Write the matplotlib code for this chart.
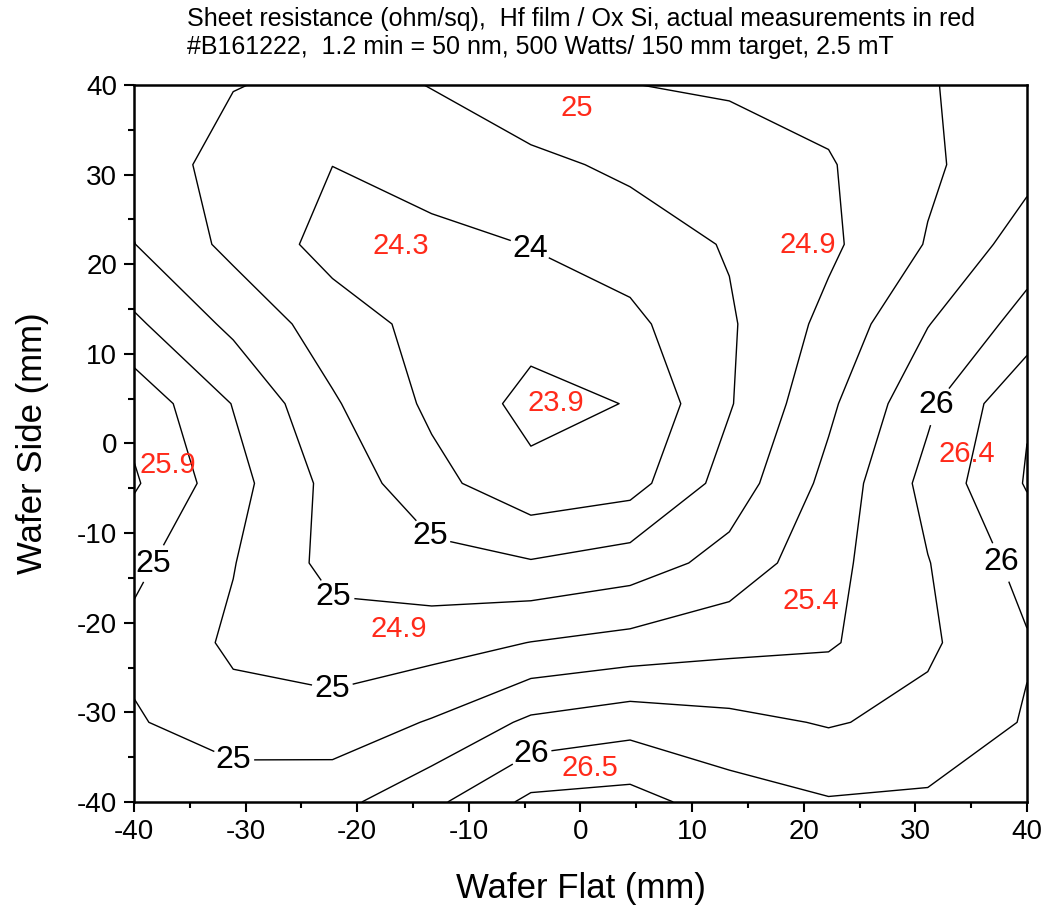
import numpy as np
import matplotlib
matplotlib.use("Agg")
import matplotlib.pyplot as plt
from matplotlib.ticker import MultipleLocator

plt.rcParams['font.family'] = ['Liberation Sans', 'DejaVu Sans']
plt.rcParams['axes.unicode_minus'] = False

# grid positions (mm) of the gridded sheet resistance map
wafer_flat = np.linspace(-40, 40, 10)
wafer_side = np.linspace(-40, 40, 10)

# gridded sheet resistance (ohm/sq), rows from wafer side -40 to +40
rs_row0 = [25.36, 25.44, 25.42, 25.69, 26.06, 26.10, 25.87, 25.77, 25.79, 25.85]
rs_row1 = [25.28, 25.08, 25.10, 25.27, 25.55, 25.65, 25.57, 25.48, 25.57, 25.77]
rs_row2 = [25.18, 24.96, 24.86, 24.895, 25.005, 25.08, 25.17, 25.22, 25.46, 25.73]
rs_row3 = [25.31, 25.01, 24.67, 24.58, 24.52, 24.62, 24.84, 25.17, 25.49, 25.84]
rs_row4 = [25.53, 25.09, 24.67, 24.33, 24.07, 24.15, 24.61, 25.07, 25.58, 26.02]
rs_row5 = [25.42, 24.99, 24.53, 24.20, 23.92, 24.01, 24.48, 24.95, 25.45, 25.98]
rs_row6 = [25.046, 24.69, 24.37, 24.17, 24.09, 24.19, 24.47, 24.82, 25.24, 25.60]
rs_row7 = [24.755, 24.43, 24.16, 24.15, 24.26, 24.37, 24.52, 24.70, 25.016, 25.37]
rs_row8 = [24.66, 24.39, 24.252, 24.41, 24.44, 24.55, 24.59, 24.73, 24.96, 25.17]
rs_row9 = [24.60, 24.51, 24.44, 24.505, 24.68, 24.745, 24.79, 24.835, 24.98, 25.15]

levels = [24.0, 24.25, 24.5, 24.75, 25.0, 25.25, 25.5, 25.75, 26.0]

# actual measurements (shown in red)
meas_x = [-0.3, -16.1, 20.4, -2.2, -37.0, 34.6, 20.6, -16.3, 0.8]
meas_y = [37.4, 22.0, 22.1, 4.5, -2.4, -1.2, -17.6, -20.7, -36.2]
meas_val = ["25", "24.3", "24.9", "23.9", "25.9", "26.4", "25.4", "24.9", "26.5"]

# where the contour labels sit
label_spots = [(-4.5, 21.8), (-13.5, -10.4), (-22.3, -19.5), (-22.2, -29.0),
               (-31.1, -36.2), (-38.4, -13.3), (31.3, 4.5), (-4.5, -34.5),
               (37.6, -13.3)]

Z = np.array([rs_row0, rs_row1, rs_row2, rs_row3, rs_row4,
              rs_row5, rs_row6, rs_row7, rs_row8, rs_row9])
X, Y = np.meshgrid(wafer_flat, wafer_side)

fig = plt.figure(figsize=(10.42, 9.10), dpi=100)
ax = fig.add_axes([0.1286, 0.1187, 0.857, 0.7879])

cs = ax.contour(X, Y, Z, levels=levels, colors='k', linewidths=1.0)
ax.clabel(cs, fmt=lambda v: "%d" % int(np.floor(v + 0.5)),
          fontsize=23, colors='k', inline=True, inline_spacing=3,
          manual=label_spots)
# labels stay horizontal, like in the original plot
for t in cs.labelTexts:
    t.set_rotation(0)

for x, y, s in zip(meas_x, meas_y, meas_val):
    ax.text(x, y, s, color='#ff2a1a', fontsize=21, ha='center', va='center')

ax.set_xlim(-40, 40)
ax.set_ylim(-40, 40)
ax.xaxis.set_major_locator(MultipleLocator(10))
ax.yaxis.set_major_locator(MultipleLocator(10))
ax.xaxis.set_minor_locator(MultipleLocator(5))
ax.yaxis.set_minor_locator(MultipleLocator(5))
ax.tick_params(which='both', direction='out', top=False, right=False, width=1.5)
ax.tick_params(which='major', length=7, labelsize=20, pad=5)
ax.tick_params(which='minor', length=4)
for sp in ax.spines.values():
    sp.set_linewidth(1.8)

ax.set_xlabel("Wafer Flat (mm)", fontsize=25, labelpad=20)
ax.set_ylabel("Wafer Side (mm)", fontsize=25, labelpad=20)

fig.text(0.1795, 0.992,
         "Sheet resistance (ohm/sq),  Hf film / Ox Si, actual measurements in red\n"
         "#B161222,  1.2 min = 50 nm, 500 Watts/ 150 mm target, 2.5 mT",
         fontsize=18, ha='left', va='top', linespacing=1.22)

fig.savefig("out.png", dpi=100)
